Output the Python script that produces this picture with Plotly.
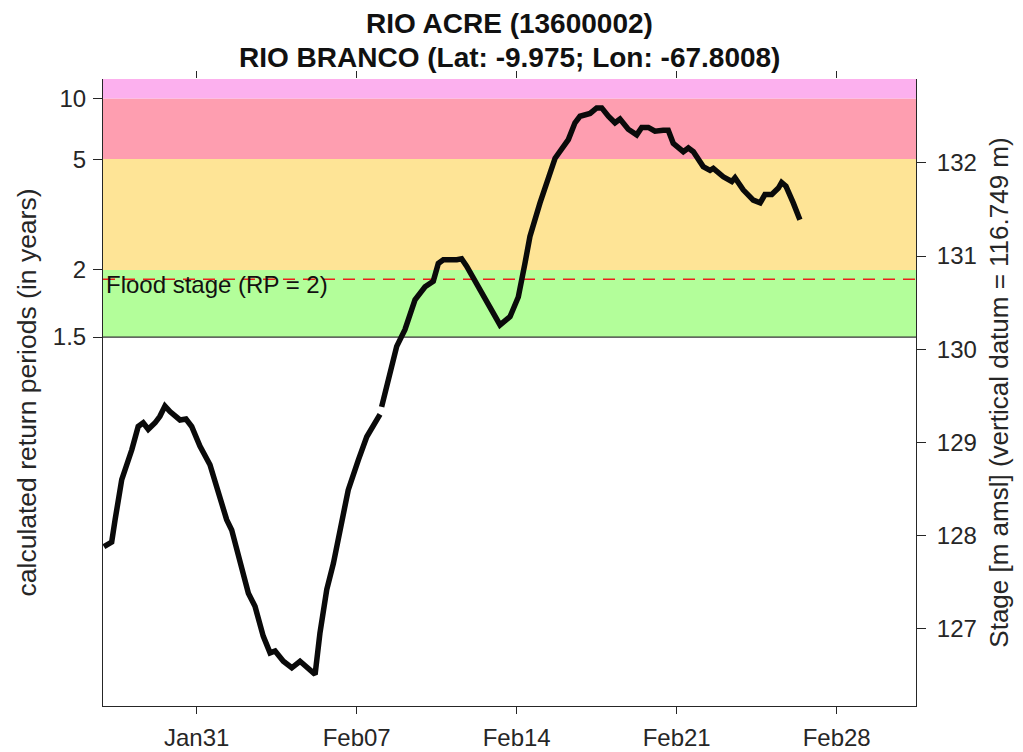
import datetime as dt
import plotly.graph_objects as go

# ---------------- data ----------------
title_line1 = "RIO ACRE (13600002)"
title_line2 = "RIO BRANCO (Lat: -9.975; Lon: -67.8008)"

# time axis: days after 2021-01-31 00:00 (None = gap in record)
days_from_jan31 = [
    -4.06, -3.72, -3.57, -3.28, -2.84, -2.56, -2.34, -2.12, -1.82, -1.61,
    -1.39, -1.17, -0.73, -0.47, -0.22, 0.14, 0.58, 0.88, 1.31, 1.53,
    1.89, 2.26, 2.55, 2.91, 3.21, 3.43, 3.79, 4.16, 4.52, 4.81,
    5.18, 5.39, 5.69, 5.98, 6.34, 6.63, 7.07, 7.44, 8.02,
    None,
    8.09, 8.46, 8.75, 9.11, 9.55, 9.99, 10.35, 10.57, 10.79, 11.38,
    11.59, 11.81, 12.40, 12.69, 13.27, 13.71, 14.07, 14.36, 14.58, 15.02,
    15.46, 15.68, 16.26, 16.55, 16.77, 17.21, 17.50, 17.72, 18.01, 18.30,
    18.52, 18.88, 19.25, 19.47, 19.76, 20.05, 20.41, 20.63, 20.85, 21.29,
    21.51, 21.73, 22.16, 22.46, 22.60, 23.04, 23.41, 23.55, 23.91, 24.35,
    24.65, 24.86, 25.16, 25.45, 25.59, 25.78, 26.10, 26.39,
]
stage_m = [
    127.88, 127.93, 128.17, 128.60, 128.92, 129.17, 129.21, 129.14, 129.21, 129.28,
    129.39, 129.33, 129.24, 129.25, 129.17, 128.96, 128.76, 128.53, 128.17, 128.06,
    127.74, 127.38, 127.24, 126.92, 126.74, 126.76, 126.65, 126.58, 126.65, 126.59,
    126.51, 126.95, 127.42, 127.70, 128.13, 128.49, 128.81, 129.06, 129.30,
    None,
    129.38, 129.78, 130.03, 130.21, 130.53, 130.67, 130.73, 130.92, 130.96, 130.96,
    130.97, 130.89, 130.64, 130.53, 130.26, 130.35, 130.56, 130.92, 131.21, 131.57,
    131.92, 132.05, 132.25, 132.43, 132.50, 132.53, 132.59, 132.59, 132.50, 132.43,
    132.47, 132.36, 132.30, 132.38, 132.38, 132.34, 132.35, 132.35, 132.21, 132.12,
    132.16, 132.12, 131.96, 131.92, 131.94, 131.85, 131.80, 131.84, 131.71, 131.60,
    131.57, 131.66, 131.66, 131.73, 131.79, 131.75, 131.57, 131.39,
]

# return periods (years) and their stage thresholds (m)
rp_years = [1.5, 2, 5, 10]
rp_labels = ["1.5", "2", "5", "10"]
rp_stage = [130.13, 130.85, 132.04, 132.69]
flood_stage = 130.75
flood_label = "Flood stage (RP = 2)"

stage_ticks = [127, 128, 129, 130, 131, 132]
date_ticks = ["2021-01-31", "2021-02-07", "2021-02-14", "2021-02-21", "2021-02-28"]

# --------------- styles ---------------
band_colors = ["#B3FE9A", "#FEE496", "#FE9EB0", "#FCB0EE"]  # 1.5-2, 2-5, 5-10, >10
AX = "#262626"
FONT = "Liberation Sans, Arial, Helvetica, sans-serif"
y_range = [126.17, 132.90]
x_range = ["2021-01-26 21:36", "2021-03-03 11:17"]

# page body has an 8px default margin: figure is sized to fill the window from there
W, H = 1015, 744
ML, MR, MT, MB = 95, 107, 71, 46
PLOT_H = H - MT - MB

base = dt.datetime(2021, 1, 31)
times = [base + dt.timedelta(days=d) if d is not None else None for d in days_from_jan31]

fig = go.Figure()
fig.add_trace(go.Scatter(
    x=times, y=stage_m, mode="lines", xaxis="x", yaxis="y2",
    line=dict(color="#0a0a0a", width=5.5), connectgaps=False,
    showlegend=False, hoverinfo="x+y",
))
# invisible traces to activate the left axis and the top axis (ticks only)
fig.add_trace(go.Scatter(x=[times[0]], y=[None], xaxis="x", yaxis="y",
                         mode="markers", showlegend=False, hoverinfo="skip"))
fig.add_trace(go.Scatter(x=[times[0]], y=[None], xaxis="x2", yaxis="y2",
                         mode="markers", showlegend=False, hoverinfo="skip"))

# colour bands
lows = rp_stage
highs = rp_stage[1:] + [y_range[1] + 0.5]
for lo, hi, c in zip(lows, highs, band_colors):
    fig.add_shape(type="rect", xref="paper", x0=0, x1=1, yref="y2", y0=lo, y1=hi,
                  fillcolor=c, line_width=0, layer="below")
# edge line at lower band bottom
fig.add_shape(type="line", xref="paper", x0=0, x1=1, yref="y2", y0=rp_stage[0], y1=rp_stage[0],
              line=dict(color="#333333", width=1.3), layer="below")
# flood stage dashed line
fig.add_shape(type="line", xref="paper", x0=0, x1=1, yref="y2", y0=flood_stage, y1=flood_stage,
              line=dict(color="#E8201A", width=1.4, dash="12px,8px"), layer="below")

fig.add_annotation(x=0, xref="paper", xanchor="left", xshift=1,
                   y=flood_stage, yref="y2", yanchor="middle", yshift=-5,
                   text=flood_label, showarrow=False,
                   font=dict(family=FONT, size=24, color="#111111"))

# titles (pixel rows 24 and 58 of the window)
fig.add_annotation(x=0.5, xref="paper", y=(PLOT_H + MT - (24 - 8)) / PLOT_H, yref="paper",
                   yanchor="middle", text="<b>" + title_line1 + "</b>", showarrow=False,
                   font=dict(family=FONT, size=28, color="#111111"))
fig.add_annotation(x=0.5, xref="paper", y=(PLOT_H + MT - (58 - 8)) / PLOT_H, yref="paper",
                   yanchor="middle", text="<b>" + title_line2 + "</b>", showarrow=False,
                   font=dict(family=FONT, size=28, color="#111111"))

tickfont = dict(family=FONT, size=24, color=AX)
fig.update_layout(
    width=W, height=H,
    margin=dict(l=ML, r=MR, t=MT, b=MB, autoexpand=False),
    paper_bgcolor="white", plot_bgcolor="white",
    font=dict(family=FONT, color=AX),
    xaxis=dict(type="date", range=x_range, tickvals=date_ticks, tickformat="%b%d",
               ticks="outside", ticklen=7, tickwidth=1, tickcolor=AX, ticklabelstandoff=3,
               showline=True, linecolor=AX, linewidth=1, showgrid=False, zeroline=False,
               tickfont=tickfont, automargin=False),
    xaxis2=dict(type="date", overlaying="x", side="top", matches="x", range=x_range,
                tickvals=date_ticks, showticklabels=False,
                ticks="outside", ticklen=7, tickwidth=1, tickcolor=AX,
                showline=False, showgrid=False, zeroline=False, automargin=False),
    yaxis=dict(range=y_range, tickvals=rp_stage, ticktext=rp_labels, side="left",
               ticks="outside", ticklen=9, tickwidth=1, tickcolor=AX, ticklabelstandoff=2,
               showline=True, linecolor=AX, linewidth=1, showgrid=False, zeroline=False,
               tickfont=tickfont, automargin=False,
               title=dict(text="calculated return periods (in years)",
                          font=dict(family=FONT, size=26.5, color=AX), standoff=8)),
    yaxis2=dict(range=y_range, overlaying="y", side="right", tickvals=stage_ticks,
                ticks="outside", ticklen=9, tickwidth=1, tickcolor=AX, ticklabelstandoff=6,
                showline=True, linecolor=AX, linewidth=1, showgrid=False, zeroline=False,
                tickfont=tickfont, automargin=False,
                title=dict(text="Stage [m amsl] (vertical datum = 116.749 m)",
                           font=dict(family=FONT, size=26, color=AX), standoff=13)),
    showlegend=False,
)

fig.write_html("out.html")
